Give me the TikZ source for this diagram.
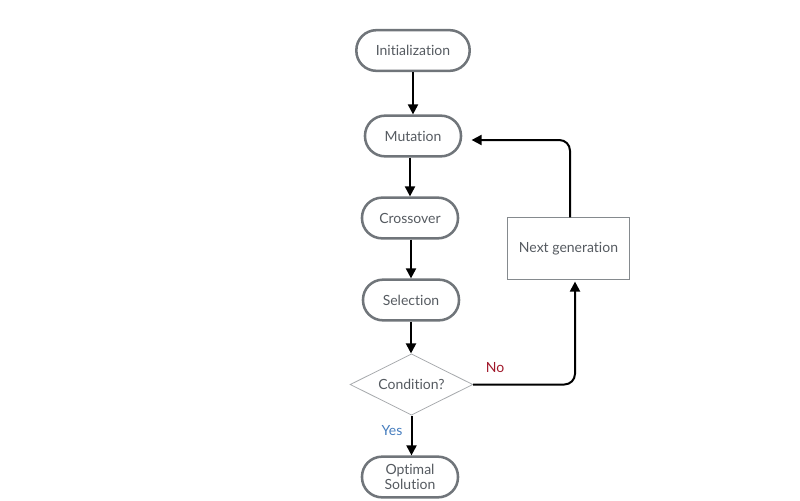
\documentclass[tikz,border=0pt]{standalone}
\usepackage{fontspec}
\setmainfont{Lato}[Ligatures=CommonOff]
\usepackage{tikz}
\usetikzlibrary{positioning}
\usetikzlibrary{shapes.geometric}
\usetikzlibrary{arrows.meta}
\definecolor{stepgray}{RGB}{112,117,122}
\definecolor{txtgray}{RGB}{85,90,96}
\definecolor{nored}{RGB}{160,24,42}
\definecolor{yesblue}{RGB}{70,125,190}

\begin{document}
\begin{tikzpicture}[x=0.75pt,y=-0.75pt,
		font=\fontsize{10.5}{12}\selectfont,
		stadium/.style={draw=stepgray,line width=1.9pt,rectangle,rounded corners=15pt,minimum width=72pt,minimum height=30.5pt,text=txtgray,align=center,inner sep=1pt},
		cond/.style={draw=stepgray!60,line width=0.6pt,diamond,aspect=2,minimum width=92pt,minimum height=46pt,text=txtgray,inner sep=0pt},
		genbox/.style={draw=stepgray!85,line width=0.6pt,rectangle,minimum width=92pt,minimum height=46pt,text=txtgray},
		flow/.style={-{Triangle[length=7.5pt,width=7.5pt]},line width=1.5pt,black}]
		\useasboundingbox (0,0) rectangle (800,500);
		\node[stadium,minimum width=85pt] at (413,50.5) (init) {Initialization};
		\node[stadium] at (413,136) (mut) {Mutation};
		\node[stadium] at (410,218) (cross) {Crossover};
		\node[stadium] at (411,300) (sel) {Selection};
		\node[cond] at (411.5,384.5) (c) {Condition?};
		\node[stadium] at (410,477) (opt) {Optimal\\[-0.5pt]Solution};
		\node[genbox] at (568.5,248.5) (gen) {Next generation};
		\node[text=nored] at (495,368) (no) {No};
		\node[text=yesblue] at (392,431) (yes) {Yes};
		\draw[flow] (init) to (init |- mut.north);
		\draw[flow] (mut.south -| cross) to (cross);
		\draw[flow] (cross.south -| sel) to (sel);
		\draw[flow] (sel) to (sel |- c.north);
		\draw[flow] (c) to (c |- opt.north);
		\draw[flow,rounded corners=8pt] (c.east) -| ([xshift=6.5*0.75pt,yshift=-1.5pt]gen.south);
		\draw[flow,rounded corners=8pt,shorten >=7pt] ([xshift=1.5*0.75pt]gen.north) |- ([yshift=-3pt]mut.east);
	\end{tikzpicture}
\end{document}
